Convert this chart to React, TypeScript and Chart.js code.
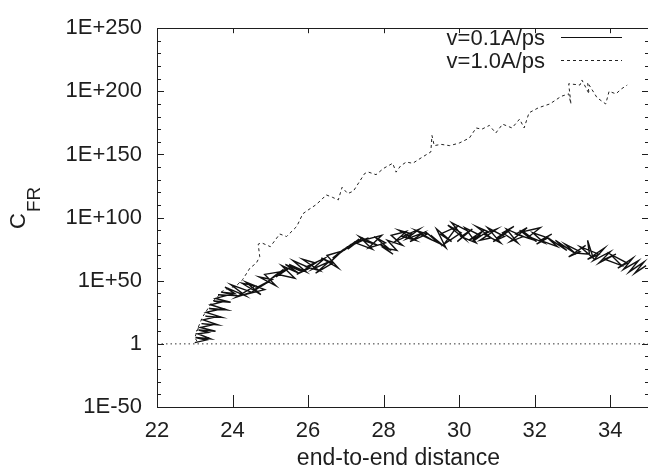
import React, { useEffect, useRef } from 'react';
import { Chart, registerables } from 'chart.js';

Chart.register(...registerables);

const FONT = '"Liberation Sans", Arial, Helvetica, sans-serif';
const INK = '#1e1e1e';

// axes
const X_MIN = 22;
const X_MAX = 35;
const X_STEP = 2;
const Y_MIN = -50; // log10 values
const Y_MAX = 250;
const Y_STEP = 50;
const Y_MINOR_PER_MAJOR = 5;

const X_TITLE = 'end-to-end distance';
const Y_TITLE_MAIN = 'C';
const Y_TITLE_SUB = 'FR';

const SERIES_NAMES = ['v=0.1A/ps', 'v=1.0A/ps'];

// v=0.1A/ps (solid) : end-to-end distance vs log10(C_FR)
const slowX = [
  23.00, 23.30, 23.02, 23.42, 23.08, 23.35, 23.10, 23.55, 23.15, 23.45, 23.18, 23.62, 23.22, 23.50, 23.28,
  23.72, 23.30, 23.60, 23.38, 23.85, 23.42, 23.70, 23.50, 23.95, 23.55, 23.80, 23.62, 24.15, 23.70, 24.05,
  23.80, 24.35, 23.95, 24.50, 24.10, 24.60, 24.25, 24.75, 24.35, 24.85, 24.45, 24.95, 24.60, 25.05, 24.70,
  25.15, 24.85, 25.25, 24.95, 25.35, 25.05, 25.45, 25.15, 25.55, 25.20, 25.65, 25.30, 25.75, 25.40, 25.85,
  25.50, 25.95, 25.60, 26.05, 25.70, 26.20, 25.85, 26.30, 25.95, 26.45, 26.10, 26.55, 26.20, 26.65, 26.35,
  26.80, 26.50, 26.85, 26.60, 26.95, 26.65, 27.05, 26.75, 27.15, 26.85, 27.25, 26.95, 27.35, 27.05, 27.45,
  27.15, 27.60, 27.25, 27.70, 27.35, 27.85, 27.45, 27.95, 27.60, 28.05, 27.75, 28.20, 27.90, 28.25, 28.00,
  28.35, 28.10, 28.50, 28.20, 28.60, 28.30, 28.75, 28.40, 28.85, 28.50, 28.95, 28.60, 29.05, 28.70, 29.15,
  28.85, 29.30, 28.95, 29.45, 29.10, 29.55, 29.25, 29.65, 29.40, 29.80, 29.50, 29.95, 29.60, 30.05, 29.70,
  30.15, 29.80, 30.25, 29.95, 30.35, 30.05, 30.45, 30.15, 30.55, 30.25, 30.65, 30.35, 30.75, 30.45, 30.85,
  30.55, 31.00, 30.65, 31.10, 30.75, 31.20, 30.90, 31.35, 31.00, 31.45, 31.15, 31.55, 31.25, 31.70, 31.35,
  31.80, 31.50, 31.90, 31.60, 32.05, 31.70, 32.15, 31.85, 32.25, 31.95, 32.35, 32.05, 32.45, 32.15, 32.60,
  32.30, 32.75, 32.40, 32.85, 32.55, 33.00, 32.65, 33.10, 32.80, 33.20, 32.90, 33.35, 33.05, 33.45, 33.40,
  33.55, 33.20, 33.70, 33.40, 33.85, 33.55, 34.00, 33.70, 34.15, 33.85, 34.30, 34.00, 34.45, 34.20, 34.60,
  34.35, 34.75, 34.50, 34.90, 34.65, 34.95,
];
const slowY = [
  1, 3, 5, 4, 8, 9, 11, 10, 13, 15, 16, 15, 19, 21, 22,
  21, 25, 27, 28, 27, 31, 33, 34, 33, 36, 38, 39, 38, 41, 40,
  45, 38, 47, 41, 37, 46, 48, 39, 49, 43, 40, 49, 44, 51, 53,
  46, 55, 57, 50, 59, 52, 60, 53, 61, 55, 52, 62, 56, 63, 57,
  63, 57, 66, 60, 55, 64, 67, 58, 61, 68, 59, 65, 56, 64, 68,
  60, 70, 73, 65, 75, 68, 77, 70, 79, 72, 81, 74, 83, 75, 84,
  78, 84, 80, 75, 85, 78, 82, 86, 76, 80, 85, 74, 79, 71, 76,
  74, 82, 78, 86, 89, 81, 87, 90, 82, 85, 91, 83, 88, 81, 87,
  90, 82, 87, 80, 89, 78, 86, 76, 91, 81, 87, 93, 79, 88, 94,
  83, 96, 89, 81, 91, 85, 80, 92, 86, 82, 90, 81, 89, 93, 84,
  82, 91, 87, 80, 92, 85, 81, 90, 84, 93, 88, 80, 91, 85, 81,
  92, 87, 83, 90, 81, 89, 92, 85, 80, 88, 84, 79, 87, 82, 77,
  85, 76, 83, 74, 82, 73, 80, 71, 79, 73, 69, 78, 72, 71, 82,
  68, 77, 71, 67, 76, 66, 73, 64, 71, 67, 62, 71, 64, 60, 68,
  59, 66, 57, 65, 56, 62,
];

// v=1.0A/ps (dashed)
const fastX = [
  23.06, 23.00, 23.10, 23.05, 23.20, 23.35, 23.45, 23.60, 23.70, 23.80, 24.10, 24.27,
  24.46, 24.63, 24.72, 24.68, 24.77, 25.00, 25.25, 25.43, 25.70, 25.86, 26.00, 26.20,
  26.35, 26.48, 26.65, 26.80, 26.90, 27.05, 27.20, 27.35, 27.50, 27.60, 27.80, 28.00,
  28.24, 28.33, 28.45, 28.60, 28.77, 29.03, 29.25, 29.28, 29.34, 29.52, 29.75, 30.00,
  30.27, 30.45, 30.60, 30.80, 30.97, 31.15, 31.40, 31.60, 31.72, 31.85, 32.10, 32.40,
  32.55, 32.70, 32.90, 32.96, 32.90, 33.20, 33.25, 33.44, 33.40, 33.65, 33.88, 33.97,
  34.15, 34.30, 34.45,
];
const fastY = [
  2, 5, 13, 10, 21, 28, 33, 37, 41, 43, 46, 51,
  60, 64, 69, 79, 80, 77, 87, 85, 93, 103, 106, 110,
  114, 118, 116, 114, 124, 119, 121, 128, 135, 136, 134, 139,
  143, 136, 141, 144, 143, 148, 152, 165, 157, 158, 157, 159,
  163, 171, 170, 173, 167, 174, 171, 178, 171, 183, 187, 190,
  193, 196, 198, 190, 206, 205, 209, 198, 207, 195, 190, 200,
  198, 202, 205,
];

// reference line C_FR = 1
const REF_LEVEL = 0;

const toPoints = (xs: number[], ys: number[]) => {
  const n = Math.min(xs.length, ys.length);
  const out: { x: number; y: number }[] = [];
  for (let i = 0; i < n; i++) out.push({ x: xs[i], y: ys[i] });
  return out;
};

const fmtY = (v: number) => (v === 0 ? '1' : '1E' + (v > 0 ? '+' : '-') + Math.abs(v));

const framePlugin = {
  id: 'gnuframe',
  afterDatasetsDraw(chart: any) {
    const { ctx, chartArea: a } = chart;
    const xs = chart.scales.x;
    const ys = chart.scales.y;
    ctx.save();
    ctx.strokeStyle = INK;
    ctx.lineWidth = 1;
    ctx.setLineDash([]);
    ctx.beginPath();
    ctx.rect(Math.round(a.left) + 0.5, Math.round(a.top) + 0.5, Math.round(a.right - a.left), Math.round(a.bottom - a.top));
    ctx.stroke();
    ctx.beginPath();
    for (const t of xs.ticks) {
      const px = Math.round(xs.getPixelForValue(t.value)) + 0.5;
      ctx.moveTo(px, a.bottom);
      ctx.lineTo(px, a.bottom - 12);
      ctx.moveTo(px, a.top);
      ctx.lineTo(px, a.top + 5);
    }
    const minorStep = Y_STEP / Y_MINOR_PER_MAJOR;
    for (let v = Y_MIN; v <= Y_MAX + 1e-9; v += minorStep) {
      const py = Math.round(ys.getPixelForValue(v)) + 0.5;
      const major = Math.abs(v % Y_STEP) < 1e-9;
      ctx.moveTo(a.left, py);
      ctx.lineTo(a.left + (major ? 7 : 4), py);
      ctx.moveTo(a.right, py);
      ctx.lineTo(a.right - (major ? 6 : 3), py);
    }
    ctx.stroke();
    ctx.restore();
  },
};

const textPlugin = {
  id: 'gnutext',
  afterDraw(chart: any) {
    const { ctx, chartArea: a } = chart;
    ctx.save();
    ctx.fillStyle = INK;
    // x title
    ctx.font = `23px ${FONT}`;
    ctx.textAlign = 'center';
    ctx.textBaseline = 'alphabetic';
    ctx.fillText(X_TITLE, (a.left + a.right) / 2 - 4, 465);
    // y title, rotated, with subscript
    ctx.save();
    ctx.translate(25, 229);
    ctx.rotate(-Math.PI / 2);
    ctx.textAlign = 'left';
    ctx.font = `22px ${FONT}`;
    ctx.fillText(Y_TITLE_MAIN, 0, 0);
    const cw = ctx.measureText(Y_TITLE_MAIN).width;
    ctx.font = `19px ${FONT}`;
    ctx.fillText(Y_TITLE_SUB, cw + 1, 15);
    ctx.restore();
    // legend (gnuplot style)
    ctx.font = `22px ${FONT}`;
    ctx.textAlign = 'right';
    const rows = [
      { y: 45, ds: chart.data.datasets[1] },
      { y: 68, ds: chart.data.datasets[2] },
    ];
    for (const r of rows) {
      ctx.fillStyle = INK;
      ctx.fillText(r.ds.label, 545, r.y);
      ctx.strokeStyle = r.ds.borderColor;
      ctx.lineWidth = 1;
      ctx.setLineDash(r.ds.borderDash || []);
      ctx.beginPath();
      ctx.moveTo(561, r.y - 7.5);
      ctx.lineTo(622, r.y - 7.5);
      ctx.stroke();
    }
    ctx.restore();
  },
};

export default function App() {
  const ref = useRef<HTMLCanvasElement | null>(null);
  useEffect(() => {
    if (!ref.current) return;
    const chart = new Chart(ref.current, {
      type: 'line',
      data: {
        datasets: [
          {
            label: 'ref',
            data: [
              { x: X_MIN, y: REF_LEVEL },
              { x: X_MAX, y: REF_LEVEL },
            ],
            borderColor: '#333',
            borderWidth: 1,
            borderDash: [1.5, 3],
            pointRadius: 0,
            tension: 0,
          },
          {
            label: SERIES_NAMES[0],
            data: toPoints(slowX, slowY),
            borderColor: '#111',
            borderWidth: 1.4,
            pointRadius: 0,
            tension: 0,
          },
          {
            label: SERIES_NAMES[1],
            data: toPoints(fastX, fastY),
            borderColor: '#222',
            borderWidth: 1,
            borderDash: [3, 3],
            pointRadius: 0,
            tension: 0,
          },
        ],
      },
      options: {
        animation: false,
        responsive: false,
        parsing: false as any,
        normalized: true,
        layout: { padding: { top: 20, right: 0, left: 0, bottom: 0 } },
        plugins: { legend: { display: false }, tooltip: { enabled: false } },
        scales: {
          x: {
            type: 'linear',
            min: X_MIN,
            max: X_MAX,
            afterBuildTicks: (s: any) => {
              s.ticks = s.ticks.filter((t: any) => Math.abs((t.value - X_MIN) % X_STEP) < 1e-9);
            },
            afterFit: (s: any) => {
              s.height = 66;
            },
            ticks: {
              stepSize: X_STEP,
              padding: 11,
              color: INK,
              font: { family: FONT, size: 22 },
              maxRotation: 0,
            },
            grid: { display: false, drawTicks: false },
            border: { display: false },
          },
          y: {
            type: 'linear',
            min: Y_MIN,
            max: Y_MAX,
            afterFit: (s: any) => {
              s.width = 157;
            },
            ticks: {
              stepSize: Y_STEP,
              padding: 15,
              color: INK,
              font: { family: FONT, size: 22 },
              callback: (v: any) => fmtY(Number(v)),
            },
            grid: { display: false, drawTicks: false },
            border: { display: false },
          },
        },
      },
      plugins: [framePlugin, textPlugin],
    } as any);
    return () => chart.destroy();
  }, []);
  return (
    <div style={{ position: 'fixed', left: 0, top: 0, width: 648, height: 473, background: '#fff' }}>
      <canvas ref={ref} width={648} height={473} style={{ width: 648, height: 473, display: 'block' }} />
    </div>
  );
}
